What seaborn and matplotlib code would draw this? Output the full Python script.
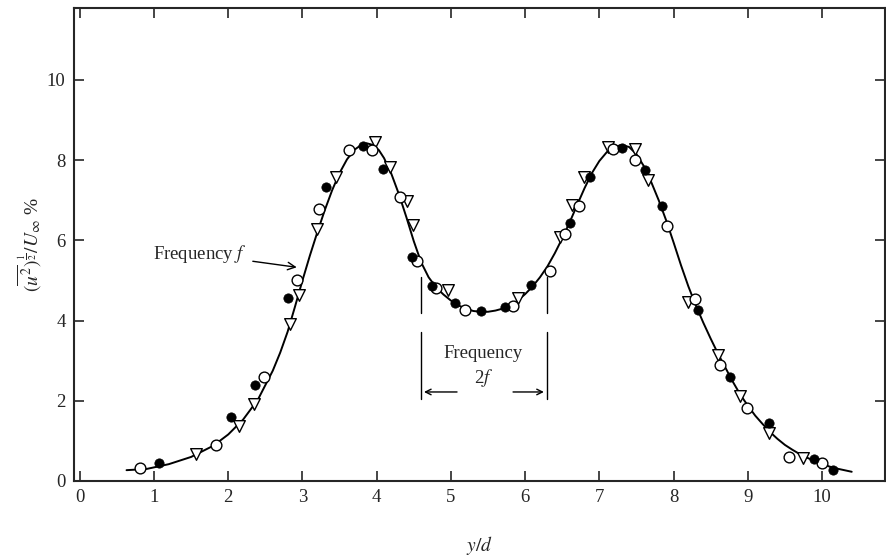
import numpy as np
import pandas as pd
import matplotlib
matplotlib.use("Agg")
import matplotlib.pyplot as plt
import seaborn as sns

sns.set_style("ticks")
plt.rcParams["font.family"] = ["Liberation Serif", "DejaVu Serif"]
plt.rcParams["mathtext.fontset"] = "stix"

# measured points, y/d and (u^2)^1/2 / U_inf in %
open_x = [0.81, 1.83, 2.48, 2.92, 3.22, 3.63, 3.94, 4.31, 4.55, 4.80, 5.19, 5.84,
          6.33, 6.54, 6.73, 7.19, 7.48, 7.91, 8.29, 8.63, 8.99, 9.55, 10.00]
open_y = [0.33, 0.90, 2.60, 5.00, 6.78, 8.25, 8.25, 7.07, 5.49, 4.82, 4.27, 4.36,
          5.24, 6.16, 6.86, 8.28, 8.00, 6.37, 4.53, 2.89, 1.83, 0.61, 0.44]

filled_x = [1.07, 2.04, 2.36, 2.81, 3.32, 3.81, 4.09, 4.48, 4.75, 5.06, 5.41, 5.73,
            6.08, 6.61, 6.87, 7.31, 7.61, 7.85, 8.33, 8.76, 9.28, 9.89, 10.15]
filled_y = [0.44, 1.60, 2.39, 4.57, 7.32, 8.35, 7.79, 5.59, 4.87, 4.43, 4.24, 4.35,
            4.89, 6.44, 7.57, 8.31, 7.76, 6.86, 4.26, 2.60, 1.44, 0.54, 0.27]

tri_x = [1.57, 2.14, 2.35, 2.83, 2.96, 3.19, 3.45, 3.98, 4.18, 4.41, 4.49, 4.96,
         5.91, 6.47, 6.63, 6.79, 7.11, 7.48, 7.65, 8.19, 8.60, 8.90, 9.29, 9.74]
tri_y = [0.67, 1.38, 1.92, 3.92, 4.64, 6.29, 7.57, 8.46, 7.82, 6.99, 6.38, 4.76,
         4.56, 6.09, 6.88, 7.57, 8.32, 8.28, 7.51, 4.47, 3.14, 2.12, 1.20, 0.58]

# faired curve
curve_x = [0.63, 0.9, 1.2, 1.5, 1.8, 2.0, 2.2, 2.4, 2.6, 2.7, 2.8, 2.9, 3.0, 3.1,
           3.2, 3.3, 3.4, 3.5, 3.6, 3.7, 3.8, 3.87, 3.95, 4.03, 4.1, 4.2, 4.3,
           4.4, 4.5, 4.6, 4.7, 4.8, 4.9, 5.0, 5.1, 5.2, 5.3, 5.4, 5.5, 5.6, 5.7,
           5.8, 5.9, 6.0, 6.1, 6.2, 6.3, 6.4, 6.5, 6.6, 6.7, 6.8, 6.9, 7.0, 7.1,
           7.2, 7.3, 7.4, 7.5, 7.6, 7.7, 7.8, 7.9, 8.0, 8.1, 8.2, 8.3, 8.4, 8.5,
           8.6, 8.7, 8.8, 8.9, 9.0, 9.1, 9.2, 9.3, 9.4, 9.5, 9.6, 9.7, 9.8, 9.9,
           10.0, 10.1, 10.2, 10.3, 10.4]
curve_y = [0.27, 0.30, 0.42, 0.60, 0.88, 1.16, 1.53, 2.03, 2.75, 3.2, 3.72, 4.35,
           5.0, 5.62, 6.2, 6.75, 7.25, 7.68, 8.02, 8.26, 8.39, 8.42, 8.38, 8.25,
           8.05, 7.65, 7.15, 6.58, 5.98, 5.45, 5.08, 4.83, 4.65, 4.5, 4.38, 4.3,
           4.24, 4.22, 4.22, 4.25, 4.3, 4.38, 4.5, 4.66, 4.85, 5.08, 5.35, 5.68,
           6.05, 6.45, 6.88, 7.3, 7.68, 7.98, 8.2, 8.33, 8.38, 8.33, 8.15, 7.85,
           7.45, 7.0, 6.5, 5.95, 5.38, 4.85, 4.38, 3.95, 3.55, 3.17, 2.82, 2.47,
           2.15, 1.88, 1.63, 1.42, 1.22, 1.05, 0.9, 0.78, 0.67, 0.58, 0.5, 0.43,
           0.36, 0.31, 0.27, 0.23]

curve = pd.DataFrame({"x": curve_x, "y": curve_y})

fig = plt.figure(figsize=(8.86, 5.58), dpi=100)
ax = fig.add_axes([0.0835, 0.138, 0.9155, 0.848])

sns.lineplot(data=curve, x="x", y="y", ax=ax, color="black", lw=1.4,
             sort=False, zorder=1)
sns.scatterplot(x=tri_x, y=tri_y, ax=ax, marker="v", s=70, facecolor="white",
                edgecolor="black", linewidth=1.0, zorder=3)
sns.scatterplot(x=open_x, y=open_y, ax=ax, marker="o", s=60, facecolor="white",
                edgecolor="black", linewidth=1.0, zorder=4)
sns.scatterplot(x=filled_x, y=filled_y, ax=ax, marker="o", s=45, color="black",
                edgecolor="black", linewidth=0.5, zorder=5)

ax.set_xlim(-0.078, 10.85)
ax.set_ylim(0, 11.8)
ax.set_xticks(range(0, 11))
ax.set_yticks(range(0, 11, 2))
ax.tick_params(direction="in", length=7, width=1.2, top=True, right=True,
               labelsize=13.5, pad=6)
for sp in ax.spines.values():
    sp.set_linewidth(1.5)
    sp.set_visible(True)

ax.set_xlabel(r"$y/d$", fontsize=14, labelpad=20)
ax.set_ylabel(r"$(\overline{u^2})^{\frac{1}{2}}/U_\infty$ %", fontsize=14,
              labelpad=2)

# annotation: frequency f
ax.annotate(r"Frequency $f$", xy=(2.96, 5.32), xytext=(2.25, 5.66),
            ha="right", va="center", fontsize=13.5,
            arrowprops=dict(arrowstyle="->", color="black", lw=1.0))

# annotation: frequency 2f
for xv in (4.60, 6.29):
    ax.plot([xv, xv], [4.19, 5.09], color="black", lw=1.0)
    ax.plot([xv, xv], [2.04, 3.72], color="black", lw=1.0)
ax.text(5.44, 3.17, "Frequency", ha="center", va="center", fontsize=13.5)
ax.text(5.44, 2.57, r"2$f$", ha="center", va="center", fontsize=13.5)
ax.annotate("", xy=(4.60, 2.22), xytext=(5.12, 2.22),
            arrowprops=dict(arrowstyle="->", color="black", lw=1.0))
ax.annotate("", xy=(6.29, 2.22), xytext=(5.80, 2.22),
            arrowprops=dict(arrowstyle="->", color="black", lw=1.0))

fig.savefig("out.png", dpi=100)
